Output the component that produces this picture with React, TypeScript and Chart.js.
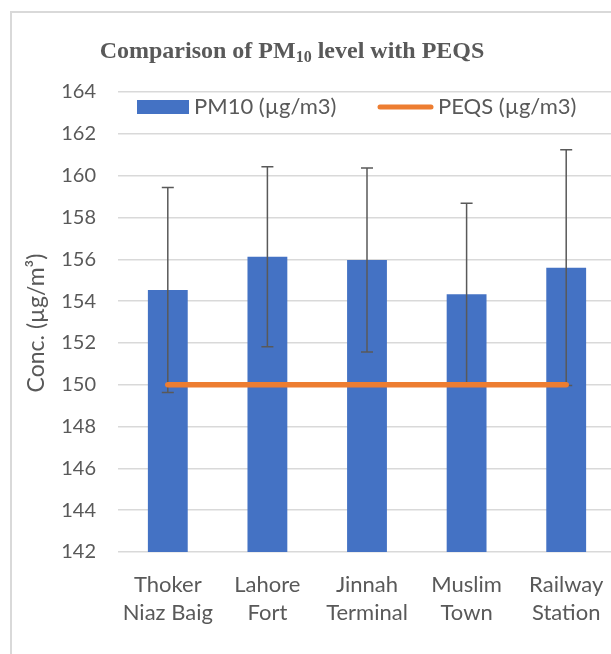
import React, { useEffect, useRef } from "react";
import { Chart, registerables } from "chart.js";

Chart.register(...registerables);

const categories = [
  ["Thoker", "Niaz Baig"],
  ["Lahore", "Fort"],
  ["Jinnah", "Terminal"],
  ["Muslim", "Town"],
  ["Railway", "Station"],
];
const pm10Values = [154.53, 156.12, 155.97, 154.33, 155.6];
const pm10Errors = [4.9, 4.3, 4.4, 4.35, 5.64];
const peqsValues = [150, 150, 150, 150, 150];
const yMin = 142;
const yMax = 164;
const yStep = 2;

const TEXT = "#595959";
const FONT = "Lato, 'Open Sans', sans-serif";

const overlayPlugin = {
  id: "overlay",
  afterDatasetDraw(chart: any, args: any) {
    if (args.index !== 0) return;
    const ctx = chart.ctx;
    const meta = chart.getDatasetMeta(0);
    const y = chart.scales.y;
    ctx.save();
    ctx.strokeStyle = "#595959";
    ctx.lineWidth = 1.5;
    meta.data.forEach((bar: any, i: number) => {
      const x = bar.x;
      const top = y.getPixelForValue(pm10Values[i] + pm10Errors[i]);
      const bot = y.getPixelForValue(pm10Values[i] - pm10Errors[i]);
      ctx.beginPath();
      ctx.moveTo(x, top);
      ctx.lineTo(x, bot);
      ctx.moveTo(x - 6, top);
      ctx.lineTo(x + 6, top);
      ctx.moveTo(x - 6, bot);
      ctx.lineTo(x + 6, bot);
      ctx.stroke();
    });
    ctx.restore();
  },
  afterDraw(chart: any) {
    const ctx = chart.ctx;
    ctx.save();
    // Title
    ctx.fillStyle = TEXT;
    ctx.textBaseline = "alphabetic";
    ctx.textAlign = "left";
    const big = "bold 24px 'Liberation Serif', 'Times New Roman', serif";
    const small = "bold 16px 'Liberation Serif', 'Times New Roman', serif";
    const p1 = "Comparison of PM";
    const p2 = "10";
    const p3 = " level with PEQS";
    ctx.font = big;
    const w1 = ctx.measureText(p1).width;
    const w3 = ctx.measureText(p3).width;
    ctx.font = small;
    const w2 = ctx.measureText(p2).width;
    const total = w1 + w2 + w3;
    let tx = 292 - total / 2;
    const ty = 58;
    ctx.font = big;
    ctx.fillText(p1, tx, ty);
    tx += w1;
    ctx.font = small;
    ctx.fillText(p2, tx, ty + 4);
    tx += w2;
    ctx.font = big;
    ctx.fillText(p3, tx, ty);

    // Legend
    ctx.font = `22px ${FONT}`;
    ctx.textBaseline = "middle";
    ctx.fillStyle = "#4472C4";
    ctx.fillRect(137, 100, 52, 14);
    ctx.fillStyle = TEXT;
    ctx.fillText("PM10 (µg/m3)", 194, 107);
    ctx.strokeStyle = "#ED7D31";
    ctx.lineWidth = 5;
    ctx.lineCap = "round";
    ctx.beginPath();
    ctx.moveTo(380, 107);
    ctx.lineTo(431, 107);
    ctx.stroke();
    ctx.fillText("PEQS (µg/m3)", 438, 107);

    // Y axis title
    ctx.font = `23px ${FONT}`;
    ctx.translate(37, 323);
    ctx.rotate(-Math.PI / 2);
    ctx.textAlign = "center";
    ctx.fillText("Conc. (µg/m³)", 0, 0);
    ctx.restore();
  },
};

export default function App() {
  const ref = useRef<HTMLCanvasElement>(null);
  useEffect(() => {
    if (!ref.current) return;
    const chart = new Chart(ref.current, {
      type: "bar",
      data: {
        labels: categories,
        datasets: [
          {
            type: "bar",
            label: "PM10 (µg/m3)",
            data: pm10Values,
            backgroundColor: "#4472C4",
            barPercentage: 0.4,
            categoryPercentage: 1,
            order: 2,
          },
          {
            type: "line",
            label: "PEQS (µg/m3)",
            data: peqsValues,
            borderColor: "#ED7D31",
            borderWidth: 5.5,
            borderCapStyle: "round",
            pointRadius: 0,
            fill: false,
            order: 1,
          } as any,
        ],
      },
      options: {
        responsive: false,
        animation: false,
        layout: { padding: { left: 0, top: 92, right: 24, bottom: 0 } },
        plugins: { legend: { display: false }, title: { display: false }, tooltip: { enabled: false } },
        scales: {
          x: {
            grid: { display: false, drawTicks: false },
            border: { display: false },
            ticks: { color: TEXT, font: { family: FONT, size: 22, lineHeight: 1.27 }, padding: 19, maxRotation: 0 },
            afterFit: (s: any) => { s.height = 102; },
          },
          y: {
            min: yMin,
            max: yMax,
            grid: { color: "#d9d9d9", lineWidth: 1.5, drawTicks: false },
            border: { display: false },
            ticks: { stepSize: yStep, color: TEXT, font: { family: FONT, size: 20 }, padding: 22 },
            afterFit: (s: any) => { s.width = 118; },
          },
        },
      },
      plugins: [overlayPlugin],
    });
    return () => chart.destroy();
  }, []);
  return (
    <div style={{ position: "fixed", left: 0, top: 0, width: 611, height: 654, overflow: "hidden", background: "#fff" }}>
      <div style={{ position: "absolute", left: 10, top: 11, width: 700, height: 700, borderLeft: "2px solid #d9d9d9", borderTop: "2px solid #d9d9d9" }} />
      <canvas ref={ref} width={640} height={654} style={{ position: "absolute", left: 0, top: 0, width: 640, height: 654 }} />
    </div>
  );
}
